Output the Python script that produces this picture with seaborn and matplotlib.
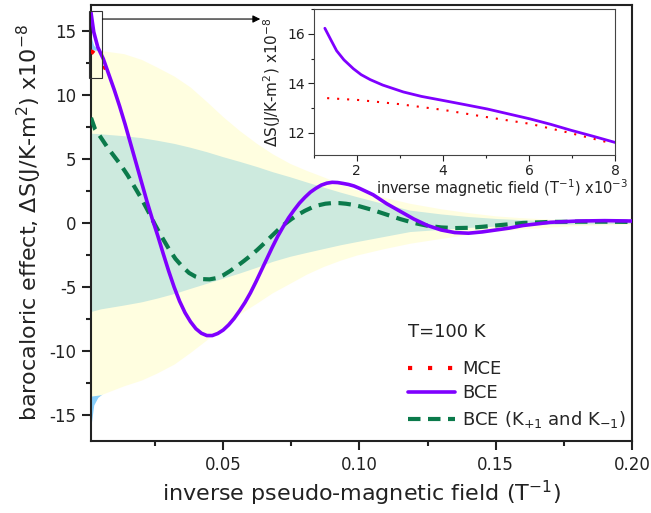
import numpy as np
import pandas as pd
import matplotlib
matplotlib.use("Agg")
import matplotlib.pyplot as plt
import seaborn as sns
from matplotlib.patches import Rectangle
from matplotlib.lines import Line2D
from matplotlib.ticker import MultipleLocator, FormatStrFormatter

sns.set_style("ticks")
plt.rcParams['font.family'] = ['DejaVu Sans']
plt.rcParams['axes.unicode_minus'] = False

# ---- main curves ----
bce_x = [0.0015, 0.0025, 0.004, 0.006, 0.008, 0.010, 0.012, 0.014, 0.016, 0.018,
         0.020, 0.022, 0.024, 0.026, 0.028, 0.030, 0.032, 0.034, 0.036, 0.038,
         0.040, 0.042, 0.044, 0.046, 0.048, 0.050, 0.052, 0.054, 0.056, 0.058,
         0.060, 0.062, 0.064, 0.066, 0.068, 0.070, 0.072, 0.074, 0.076, 0.078,
         0.080, 0.082, 0.084, 0.086, 0.088, 0.090, 0.092, 0.094, 0.096, 0.098,
         0.100, 0.105, 0.110, 0.115, 0.120, 0.125, 0.130, 0.135, 0.140, 0.145,
         0.150, 0.155, 0.160, 0.170, 0.180, 0.190, 0.200]
bce_y = [16.4, 14.9, 13.7, 12.8, 11.6, 10.4, 9.1, 7.7, 6.2, 4.7,
         3.2, 1.7, 0.3, -1.0, -2.4, -3.75, -5.0, -6.1, -7.0, -7.7,
         -8.25, -8.6, -8.78, -8.78, -8.62, -8.35, -7.95, -7.45, -6.85, -6.2,
         -5.45, -4.6, -3.7, -2.8, -1.9, -1.05, -0.3, 0.4, 1.0, 1.55,
         2.0, 2.4, 2.7, 2.95, 3.1, 3.17, 3.15, 3.08, 3.0, 2.88,
         2.7, 2.2, 1.5, 0.9, 0.3, -0.2, -0.55, -0.75, -0.8, -0.7,
         -0.55, -0.4, -0.2, 0.05, 0.15, 0.18, 0.15]

bcek_x = [0.0015, 0.003, 0.005, 0.0075, 0.010, 0.0125, 0.015, 0.0175, 0.020, 0.0225,
          0.025, 0.0275, 0.030, 0.0325, 0.035, 0.0375, 0.040, 0.0425, 0.045, 0.0475,
          0.050, 0.0525, 0.055, 0.0575, 0.060, 0.0625, 0.065, 0.0675, 0.070, 0.0725,
          0.075, 0.0775, 0.080, 0.0825, 0.085, 0.0875, 0.090, 0.0925, 0.095, 0.0975,
          0.100, 0.105, 0.110, 0.115, 0.120, 0.125, 0.130, 0.135, 0.140, 0.145,
          0.150, 0.160, 0.170, 0.180, 0.190, 0.200]
bcek_y = [8.2, 7.3, 6.7, 5.9, 5.2, 4.5, 3.7, 2.8, 1.9, 0.9,
          -0.15, -1.1, -2.0, -2.8, -3.4, -3.9, -4.2, -4.38, -4.4, -4.3,
          -4.08, -3.75, -3.38, -2.98, -2.56, -2.1, -1.6, -1.08, -0.57, -0.1,
          0.3, 0.65, 0.95, 1.2, 1.38, 1.5, 1.55, 1.55, 1.5, 1.42,
          1.3, 1.0, 0.65, 0.3, 0.0, -0.22, -0.35, -0.4, -0.38, -0.3,
          -0.2, 0.0, 0.08, 0.1, 0.1, 0.08]

# ---- shaded bands ----
band_x = [0.0015, 0.005, 0.0135, 0.020, 0.0257, 0.032, 0.0379, 0.044, 0.050, 0.056,
          0.0623, 0.068, 0.0745, 0.0805, 0.0867, 0.093, 0.099, 0.109, 0.1185, 0.130,
          0.140, 0.150, 0.160, 0.180, 0.200]
yel_hi = [13.5, 13.45, 13.2, 12.75, 12.15, 11.45, 10.6, 9.45, 8.27, 7.2,
          6.2, 5.4, 4.64, 4.1, 3.6, 3.05, 2.57, 2.0, 1.53, 1.1,
          0.8, 0.55, 0.4, 0.2, 0.1]
yel_lo = [-13.5, -13.4, -12.7, -12.25, -11.7, -11.0, -10.1, -9.1, -8.06, -7.1,
          -6.25, -5.45, -4.7, -4.0, -3.4, -2.9, -2.5, -2.0, -1.58, -1.2,
          -0.9, -0.65, -0.45, -0.2, -0.1]
teal_hi = [7.0, 6.95, 6.8, 6.65, 6.45, 6.2, 5.9, 5.55, 5.16, 4.8,
           4.4, 4.0, 3.6, 3.2, 2.8, 2.4, 2.05, 1.5, 1.0, 0.7,
           0.5, 0.35, 0.25, 0.1, 0.05]
teal_lo = [-6.9, -6.7, -6.4, -6.15, -5.86, -5.5, -5.1, -4.7, -4.3, -3.9,
           -3.45, -3.0, -2.6, -2.3, -2.0, -1.7, -1.45, -1.05, -0.67, -0.5,
           -0.35, -0.25, -0.15, -0.08, -0.03]
blue_x = [0.0015, 0.0025, 0.004, 0.0055]
blue_hi = [14.5, 13.85, 13.55, 13.4]
blue_lo = [-15.8, -14.2, -13.6, -13.35]

# ---- inset curves (x in units of 1e-3) ----
ins_bce_x = [1.257, 1.4, 1.53, 1.7, 1.92, 2.1, 2.31, 2.6, 3.08, 3.5,
             4.02, 4.5, 5.03, 5.5, 6.02, 6.5, 6.97, 7.5, 8.03]
ins_bce_y = [16.23, 15.75, 15.32, 14.95, 14.59, 14.35, 14.15, 13.93, 13.65, 13.47,
             13.3, 13.14, 12.96, 12.77, 12.56, 12.34, 12.1, 11.85, 11.59]
ins_mce_x = [1.31, 2.07, 2.97, 4.02, 4.95, 6.02, 6.9, 7.83]
ins_mce_y = [13.4, 13.32, 13.16, 12.92, 12.65, 12.36, 12.01, 11.61]

purple = '#7f00ff'
green = '#0b7a4b'
red = '#ff0000'
dots = (0, (1, 3.8))
dashes = (0, (3, 1.8))

fig = plt.figure(figsize=(6.51, 5.13), dpi=100)
ax = fig.add_axes([0.1398, 0.1404, 0.831, 0.850])

ax.fill_between(blue_x, blue_lo, blue_hi, color='#87cefa', lw=0, zorder=1)
ax.fill_between(band_x, yel_lo, yel_hi, color='#fffee0', lw=0, zorder=1.1)
ax.fill_between(band_x, teal_lo, teal_hi, color='#cdeade', lw=0, zorder=1.2)

mce_main = pd.DataFrame({'x': np.array(ins_mce_x) * 1e-3, 'y': ins_mce_y})
sns.lineplot(data=mce_main, x='x', y='y', ax=ax, color=red, lw=3, linestyle=dots, zorder=3)
sns.lineplot(x=bce_x, y=bce_y, ax=ax, color=purple, lw=2.6, zorder=4)
sns.lineplot(x=bcek_x, y=bcek_y, ax=ax, color=green, lw=3, linestyle=dashes, zorder=3.5)

ax.set_xlim(0.0015, 0.2)
ax.set_ylim(-17, 17)
ax.xaxis.set_major_locator(MultipleLocator(0.05))
ax.xaxis.set_minor_locator(MultipleLocator(0.025))
ax.xaxis.set_major_formatter(FormatStrFormatter('%.2f'))
ax.yaxis.set_major_locator(MultipleLocator(5))
ax.yaxis.set_minor_locator(MultipleLocator(2.5))
ax.tick_params(which='major', length=6.5, width=1.5, labelsize=12, colors='#222222', pad=4)
ax.tick_params(which='minor', length=3.4, width=1.5, colors='#222222')
for sp in ax.spines.values():
    sp.set_linewidth(1.5)
    sp.set_color('#222222')
ax.set_xlabel('inverse pseudo-magnetic field (T$^{-1}$)', fontsize=16, color='#222222')
ax.set_ylabel('barocaloric effect, $\\Delta$S(J/K-m$^2$) x10$^{-8}$', fontsize=16, color='#222222')

# zoom box and arrow
ax.add_patch(Rectangle((0.0006, 11.3), 0.0051, 5.25, fill=False, lw=0.8,
                       edgecolor='#333333', clip_on=False, zorder=6))
ax.annotate('', xy=(0.0636, 15.9), xytext=(0.0057, 15.9),
            arrowprops=dict(arrowstyle='-|>', color='black', lw=0.8, mutation_scale=11,
                            shrinkA=0, shrinkB=0), zorder=6)

ax.text(0.586, 0.25, 'T=100 K', transform=ax.transAxes, fontsize=13,
        va='center', ha='left', color='#222222')
handles = [Line2D([], [], color=red, lw=3, linestyle=dots),
           Line2D([], [], color=purple, lw=2.6),
           Line2D([], [], color=green, lw=3, linestyle=dashes)]
labels = ['MCE', 'BCE', 'BCE (K$_{+1}$ and K$_{-1}$)']
ax.legend(handles, labels, loc='upper left', bbox_to_anchor=(0.586, 0.186),
          frameon=False, fontsize=13, handlelength=2.6, handletextpad=0.4,
          labelspacing=0.36, borderpad=0, borderaxespad=0)

# ---- inset ----
ins = fig.add_axes([0.482, 0.698, 0.463, 0.284])
ins.set_facecolor('white')
sns.lineplot(x=ins_mce_x, y=ins_mce_y, ax=ins, color=red, lw=1.5, linestyle=dots)
sns.lineplot(x=ins_bce_x, y=ins_bce_y, ax=ins, color=purple, lw=2)
ins.set_xlim(1, 8)
ins.set_ylim(11.1, 17)
ins.xaxis.set_major_locator(MultipleLocator(2))
ins.xaxis.set_minor_locator(MultipleLocator(1))
ins.yaxis.set_major_locator(MultipleLocator(2))
ins.yaxis.set_minor_locator(MultipleLocator(1))
ins.tick_params(which='major', length=4.5, width=0.8, labelsize=10, colors='#222222', pad=2)
ins.tick_params(which='minor', length=2.5, width=0.8, colors='#222222')
for sp in ins.spines.values():
    sp.set_linewidth(0.8)
    sp.set_color('#444444')
ins.set_xlabel('inverse magnetic field (T$^{-1}$) x10$^{-3}$', fontsize=10.5, color='#222222')
ins.xaxis.set_label_coords(0.625, -0.155)
ins.set_ylabel('$\\Delta$S(J/K-m$^2$) x10$^{-8}$', fontsize=11, color='#222222', labelpad=3)

fig.savefig('out.png', dpi=100)
